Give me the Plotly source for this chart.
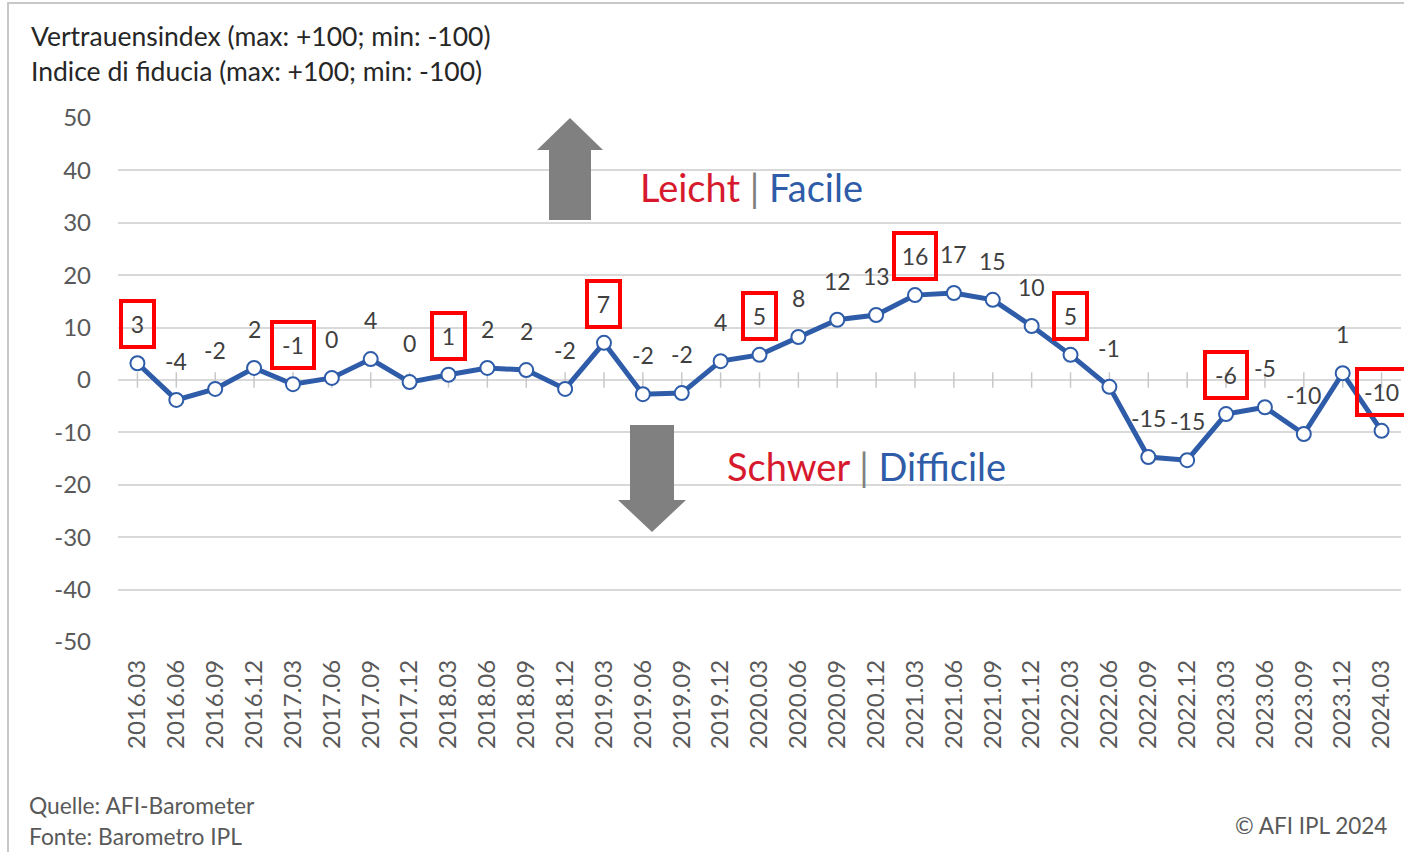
import plotly.graph_objects as go

quartale = [
    "2016.03", "2016.06", "2016.09", "2016.12",
    "2017.03", "2017.06", "2017.09", "2017.12",
    "2018.03", "2018.06", "2018.09", "2018.12",
    "2019.03", "2019.06", "2019.09", "2019.12",
    "2020.03", "2020.06", "2020.09", "2020.12",
    "2021.03", "2021.06", "2021.09", "2021.12",
    "2022.03", "2022.06", "2022.09", "2022.12",
    "2023.03", "2023.06", "2023.09", "2023.12",
    "2024.03",
]
index_werte = [
    3.2, -3.8, -1.7, 2.3,
    -0.8, 0.4, 4.0, -0.4,
    1.0, 2.3, 1.9, -1.7,
    7.1, -2.7, -2.5, 3.6,
    4.8, 8.2, 11.5, 12.4,
    16.2, 16.6, 15.3, 10.3,
    4.8, -1.3, -14.7, -15.3,
    -6.5, -5.2, -10.3, 1.3,
    -9.7,
]
beschriftung = [
    "3", "-4", "-2", "2",
    "-1", "0", "4", "0",
    "1", "2", "2", "-2",
    "7", "-2", "-2", "4",
    "5", "8", "12", "13",
    "16", "17", "15", "10",
    "5", "-1", "-15", "-15",
    "-6", "-5", "-10", "1",
    "-10",
]
y_ticks = [-50, -40, -30, -20, -10, 0, 10, 20, 30, 40, 50]

BLAU = "#2E5CA8"
ROT = "#D7192D"
GRAU_TEXT = "#595959"
FONT = "Lato"

pos = list(range(len(quartale)))


def px(x):
    # Pixel der Vorlage -> paper-Koordinate
    return (x - 118) / 1283


def py(y):
    return (642 - y) / 524


fig = go.Figure()

# kleine Teilstriche auf der Nulllinie
fig.add_trace(
    go.Scatter(
        x=pos,
        y=[0] * len(pos),
        mode="markers",
        marker=dict(symbol="line-ns", size=11, line=dict(width=1.5, color="#c8c8c8")),
        hoverinfo="skip",
    )
)

fig.add_trace(
    go.Scatter(
        x=pos,
        y=index_werte,
        mode="lines+markers",
        line=dict(color=BLAU, width=5),
        marker=dict(size=14, color="white", line=dict(color=BLAU, width=2)),
        cliponaxis=False,
    )
)

annotations = []
for i, (q, v, t) in enumerate(zip(quartale, index_werte, beschriftung)):
    a = dict(
        x=i, y=v, text=t, showarrow=False, yshift=39,
        font=dict(family=FONT, size=23, color="#404040"),
    )
    if q.endswith(".03"):
        a.update(
            bordercolor="#FF0000", borderwidth=4, borderpad=2, height=38,
            width={1: 25, 2: 34}.get(len(t), 41),
        )
    annotations.append(a)


def paper_text(text, x, y, size, color=GRAU_TEXT, anchor="left"):
    return dict(
        x=px(x), y=py(y), xref="paper", yref="paper",
        xanchor=anchor, yanchor="middle", showarrow=False, text=text,
        font=dict(family=FONT, size=size, color=color),
    )


annotations += [
    paper_text("Vertrauensindex (max: +100; min: -100)", 29, 36, 26.5, "#262626"),
    paper_text("Indice di fiducia (max: +100; min: -100)", 29, 71, 26.5, "#262626"),
    paper_text(
        f"<span style='color:{ROT}'>Leicht</span> <span style='color:#808080'>|</span> "
        f"<span style='color:{BLAU}'>Facile</span>", 638, 187, 38),
    paper_text(
        f"<span style='color:{ROT}'>Schwer</span> <span style='color:#808080'>|</span> "
        f"<span style='color:{BLAU}'>Difficile</span>", 725, 466, 38),
    paper_text("Quelle: AFI-Barometer", 27, 805, 22.8),
    paper_text("Fonte: Barometro IPL", 27, 836, 22.8),
    paper_text("© AFI IPL 2024", 1389, 825, 22.5, anchor="right"),
]

pfeil_hoch = (
    f"M {px(549)} {py(220)} L {px(549)} {py(150)} L {px(537)} {py(150)} "
    f"L {px(570)} {py(118)} L {px(603)} {py(150)} L {px(591)} {py(150)} "
    f"L {px(591)} {py(220)} Z"
)
pfeil_runter = (
    f"M {px(630)} {py(425)} L {px(630)} {py(500)} L {px(618)} {py(500)} "
    f"L {px(652)} {py(532)} L {px(686)} {py(500)} L {px(674)} {py(500)} "
    f"L {px(674)} {py(425)} Z"
)

fig.update_layout(
    width=1404,
    height=852,
    margin=dict(l=118, r=3, t=118, b=210),
    plot_bgcolor="white",
    paper_bgcolor="white",
    showlegend=False,
    font=dict(family=FONT, color=GRAU_TEXT),
    annotations=annotations,
    shapes=[
        dict(type="path", path=pfeil_hoch, xref="paper", yref="paper",
             fillcolor="#808080", line=dict(width=0)),
        dict(type="path", path=pfeil_runter, xref="paper", yref="paper",
             fillcolor="#808080", line=dict(width=0)),
        dict(type="rect", xref="paper", yref="paper",
             x0=px(8), x1=px(1420), y0=py(900), y1=py(3),
             line=dict(color="#c8c8c8", width=2)),
    ],
)
fig.update_xaxes(
    range=[-0.5, len(pos) - 0.5],
    tickvals=pos,
    ticktext=quartale,
    tickangle=-90,
    tickfont=dict(family=FONT, size=24, color=GRAU_TEXT),
    ticklabelstandoff=12,
    showgrid=False,
    showline=False,
    zeroline=False,
    ticks="",
)
fig.update_yaxes(
    range=[-50, 50],
    tickvals=y_ticks,
    ticktext=[str(v) for v in y_ticks],
    showgrid=True,
    gridcolor="#d9d9d9",
    gridwidth=2,
    zeroline=False,
    tickfont=dict(family=FONT, size=24, color=GRAU_TEXT),
    ticklabelstandoff=26,
)

fig.write_html(
    "out.html",
    config={"displayModeBar": False},
    post_script="document.body.style.margin='0px';",
)
